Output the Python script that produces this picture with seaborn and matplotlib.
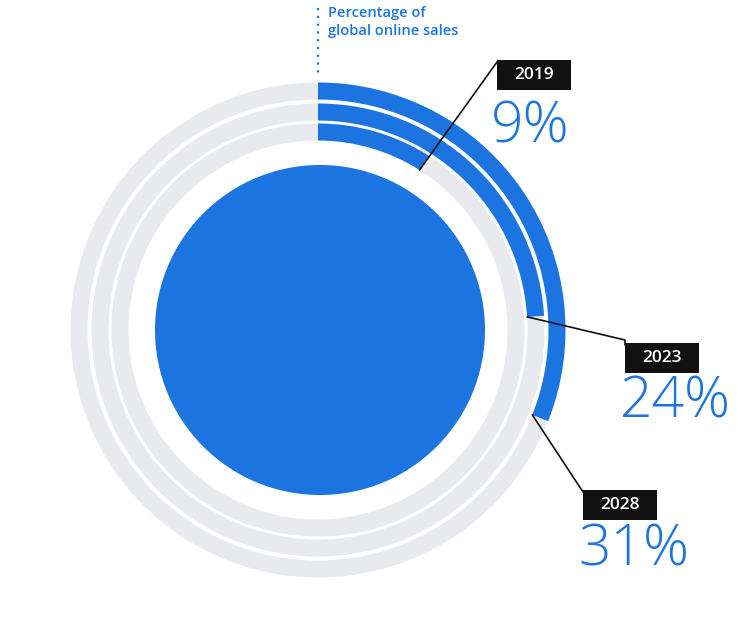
import matplotlib
matplotlib.use("Agg")
import matplotlib.pyplot as plt
import seaborn as sns
import numpy as np
from matplotlib.patches import Wedge, Circle, Rectangle

sns.set_theme(style="white")
plt.rcParams['font.family'] = ['Open Sans', 'DejaVu Sans']

years = ["2019", "2023", "2028"]
shares = [9, 24, 31]

BLUE = "#1c74e0"
GRAY = "#e9eaee"

fig = plt.figure(figsize=(7.5, 6.26), dpi=100)
ax = fig.add_axes([0, 0, 1, 1])
ax.set_xlim(0, 750)
ax.set_ylim(626, 0)
ax.set_aspect("equal")
ax.axis("off")

cx, cy = 318, 330
radii = [198, 218, 239]
width = 17
ends = []
for r, s in zip(radii, shares):
    ax.add_patch(Wedge((cx, cy), r + width / 2, 0, 360, width=width, color=GRAY, lw=0))
    ax.add_patch(Wedge((cx, cy), r + width / 2, -90, -90 + 360 * s / 100,
                       width=width, color=BLUE, lw=0))
    a = np.deg2rad(360 * s / 100)
    ends.append((cx + (r - width / 2) * np.sin(a), cy - (r - width / 2) * np.cos(a)))

ax.add_patch(Circle((320, 330), 165, color=BLUE, lw=0))

ax.plot([318, 318], [8, 76], ls=(0, (1, 2.5)), color=BLUE, lw=1.6)
ax.text(328, 22, "Percentage of\nglobal online sales", color=BLUE, fontsize=10.5,
        fontweight="semibold", va="center", ha="left", linespacing=1.3)

labels = [
    dict(box=(497, 60), via=[(497, 62)], num=(491, 128)),
    dict(box=(625, 343), via=[(625, 340), (625, 345)], num=(620, 403)),
    dict(box=(583, 490), via=[(583, 492)], num=(578, 551)),
]
for y, s, L, e in zip(years, shares, labels, ends):
    pts = [e] + L["via"]
    xs, ys = zip(*pts)
    ax.plot(xs, ys, color="#111111", lw=1.2)
    bx, by = L["box"]
    ax.add_patch(Rectangle((bx, by), 74, 30, color="#111111", lw=0))
    ax.text(bx + 37, by + 15, y, color="white", fontsize=12.5, fontweight="semibold",
            ha="center", va="center")
    ax.text(L["num"][0], L["num"][1], f"{s}%", color=BLUE, fontsize=41,
            ha="left", va="center", fontweight="light")

fig.savefig("out.png", dpi=100)
